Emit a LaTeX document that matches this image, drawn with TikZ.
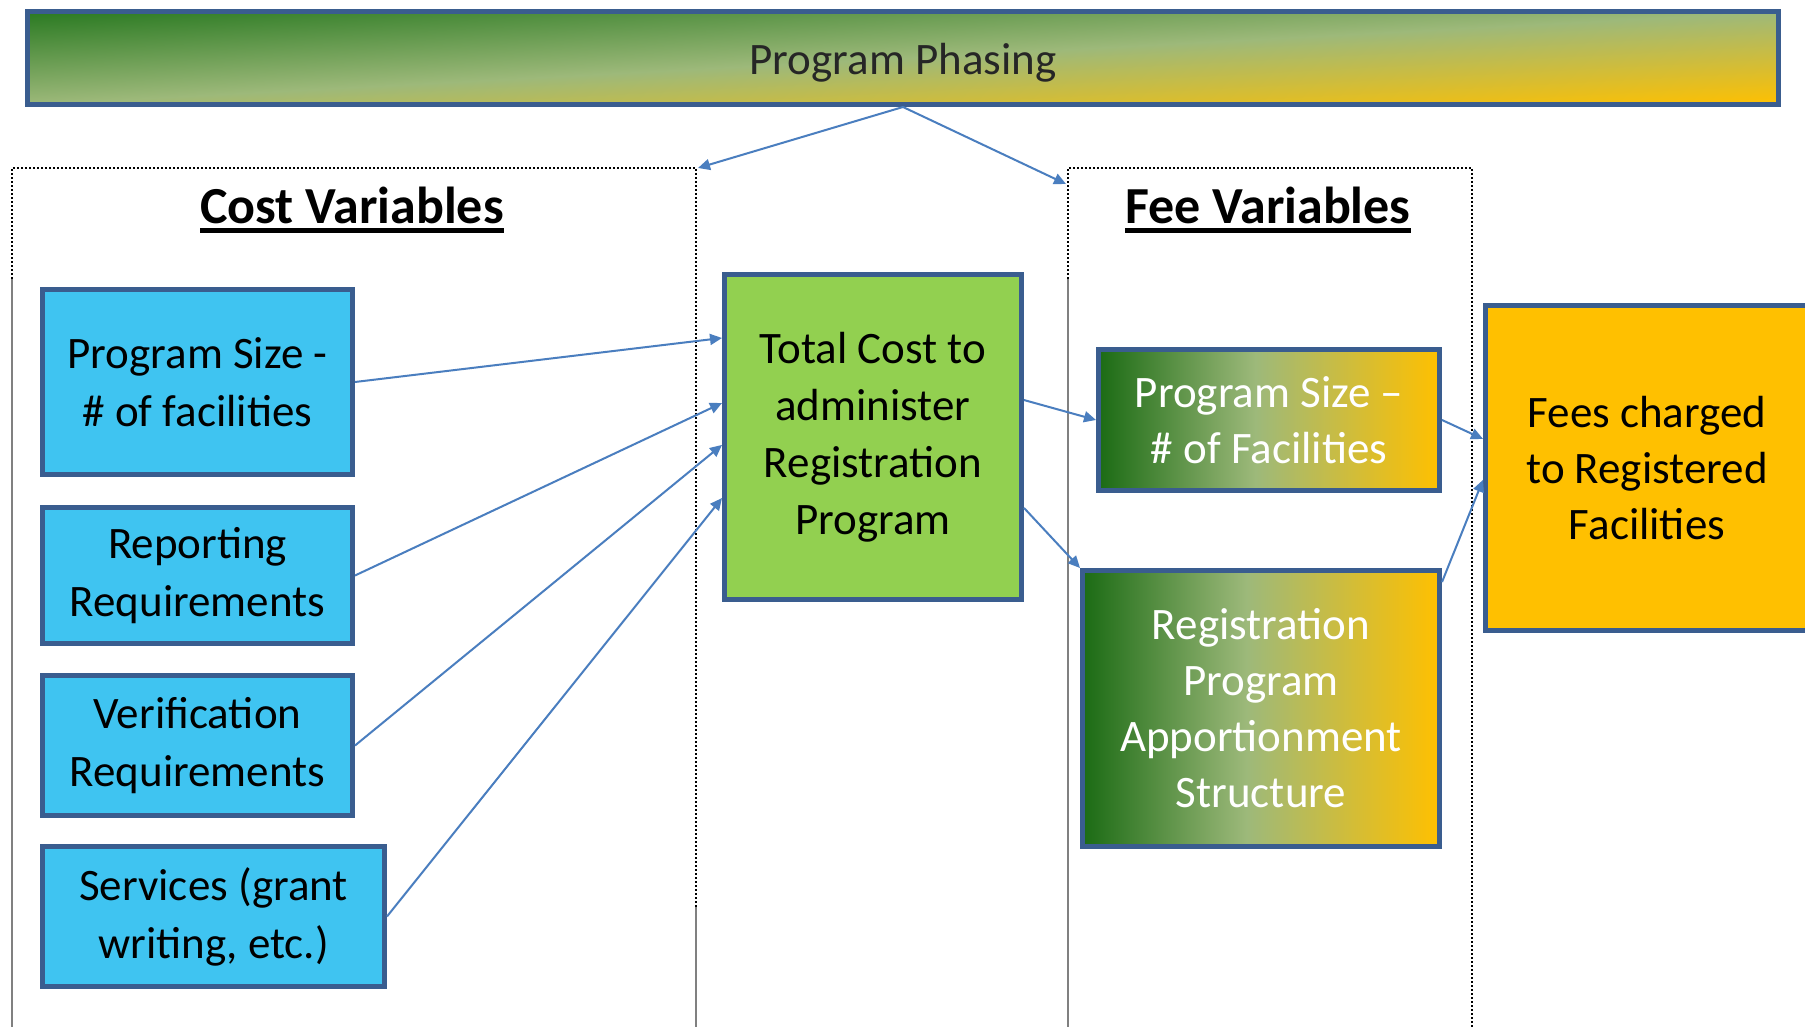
\documentclass[tikz,border=0pt]{standalone}
\usepackage{fontspec}
\setmainfont{Carlito}
\usetikzlibrary{arrows.meta,calc}
\definecolor{bdr}{HTML}{3A5D8F}
\definecolor{skyb}{HTML}{3FC4F1}
\definecolor{lgreen}{HTML}{92D050}
\definecolor{gold}{HTML}{FFC000}
\definecolor{dkg}{HTML}{1B6B14}
\definecolor{sage}{HTML}{9DB97A}
\definecolor{conn}{HTML}{4A7EBF}
\pgfdeclarehorizontalshading{feeshade}{100bp}{color(0bp)=(dkg); color(25bp)=(dkg); color(48bp)=(sage); color(75bp)=(gold); color(100bp)=(gold)}
% diagonal shading for the top bar: dark green (top left) -> sage -> gold (bottom right)
\pgfdeclarefunctionalshading{barshade}{\pgfpointorigin}{\pgfpoint{100bp}{100bp}}{}{
  75 exch sub exch 25 sub add 100 div
  dup 0 lt {pop 0} if
  dup 1 gt {pop 1} if
  dup 0.5 lt
  { 2 mul dup dup
    0.451 mul 0.165 add
    3 1 roll
    0.247 mul 0.478 add
    exch
    0.345 mul 0.133 add }
  { 0.5 sub 2 mul dup dup
    0.384 mul 0.616 add
    3 1 roll
    0.028 mul 0.725 add
    exch
    -0.478 mul 0.478 add }
  ifelse
}
\tikzset{
  box/.style={draw=bdr, line width=5pt, align=center, inner sep=0pt, font=\fontsize{45}{56}\selectfont},
  costbox/.style={box, fill=skyb, text=black, font=\fontsize{45}{58}\selectfont},
  totbox/.style={box, fill=lgreen, text=black, font=\fontsize{45}{57}\selectfont},
  feebox/.style={box, shading=feeshade, text=white},
  outbox/.style={box, fill=gold, text=black},
  barbox/.style={box, shading=barshade, text=black!85},
  hdr/.style={inner sep=0pt, font=\fontsize{52}{60}\selectfont\bfseries},
  arr/.style={draw=conn, line width=2pt, -{Triangle[length=12pt,width=11pt]}},
  dotline/.style={draw=black, line width=2pt, dash pattern=on 2pt off 2pt},
  grayline/.style={draw=black!50, line width=2pt}
}
\begin{document}
\begin{tikzpicture}[x=1pt,y=-1pt]
\useasboundingbox (0,0) rectangle (1805,1027);
\clip (0,0) rectangle (1805,1027);
\fill[white] (0,0) rectangle (1805,1027);
% dotted containers and grid lines
\draw[grayline] (12,279) -- (12,1027);
\draw[grayline] (696,907) -- (696,1027);
\draw[grayline] (1068,279) -- (1068,1027);
\draw[dotline] (12,279) |- (696,168) -- (696,907);
\draw[dotline] (1068,279) |- (1472,168) -- (1472,1027);
\coordinate (cvtr) at (698,168);
\coordinate (fvin) at (1066,184);
% top bar
\node[barbox, minimum width=1751pt, minimum height=93pt] (bar) at (903,58) {\raisebox{-5pt}[\height][\depth]{Program Phasing}};
% headers
\node[hdr, anchor=base] (cv) at (352,224) {Cost Variables};
\draw[line width=5pt] ([yshift=-6.5pt]cv.base west) -- ([yshift=-6.5pt]cv.base east);
\node[hdr, anchor=base] (fv) at (1268,224) {Fee Variables};
\draw[line width=5pt] ([yshift=-6.5pt]fv.base west) -- ([yshift=-6.5pt]fv.base east);
% cost boxes
\node[costbox, minimum width=310pt, minimum height=185pt] (b1) at (197.5,382) {Program Size -\\\# of facilities};
\node[costbox, minimum width=310pt, minimum height=136pt] (b2) at (197.5,575.5) {Reporting\\Requirements};
\node[costbox, minimum width=310pt, minimum height=140pt] (b3) at (197.5,745.5) {Verification\\Requirements};
\node[costbox, minimum width=342pt, minimum height=140pt] (b4) at (213.5,916.5) {Services (grant\\writing, etc.)};
% total
\node[totbox, minimum width=297pt, minimum height=325pt] (g) at (873,437) {Total Cost to\\administer\\Registration\\Program};
% fee boxes
\node[feebox, minimum width=341pt, minimum height=141pt] (f1) at (1269,420) {Program Size --\\\# of Facilities};
\node[feebox, minimum width=357pt, minimum height=276pt] (f2) at (1261,708.5) {Registration\\Program\\Apportionment\\Structure};
% output
\node[outbox, minimum width=323pt, minimum height=325pt] (o) at (1647,468) {Fees charged\\to Registered\\Facilities};
% connectors
\draw[arr] (bar.south) -- (cvtr);
\draw[arr] (bar.south) -- (fvin);
\draw[arr] (b1.east) -- ($(g.north west)!0.2!(g.south west)$);
\draw[arr] (b2.east) -- ($(g.north west)!0.397!(g.south west)$);
\draw[arr] (b3.east) -- ($(g.north west)!0.524!(g.south west)$);
\draw[arr] (b4.east) -- ($(g.north west)!0.685!(g.south west)$);
\draw[arr] ($(g.north east)!0.388!(g.south east)$) -- (f1.west);
\draw[arr] ($(g.north east)!0.715!(g.south east)$) -- (f2.north west);
\draw[arr] (f1.east) -- ($(o.north west)!0.412!(o.south west)$);
\draw[arr] ($(f2.north east)!0.05!(f2.south east)$) -- ($(o.north west)!0.536!(o.south west)$);
\end{tikzpicture}
\end{document}
